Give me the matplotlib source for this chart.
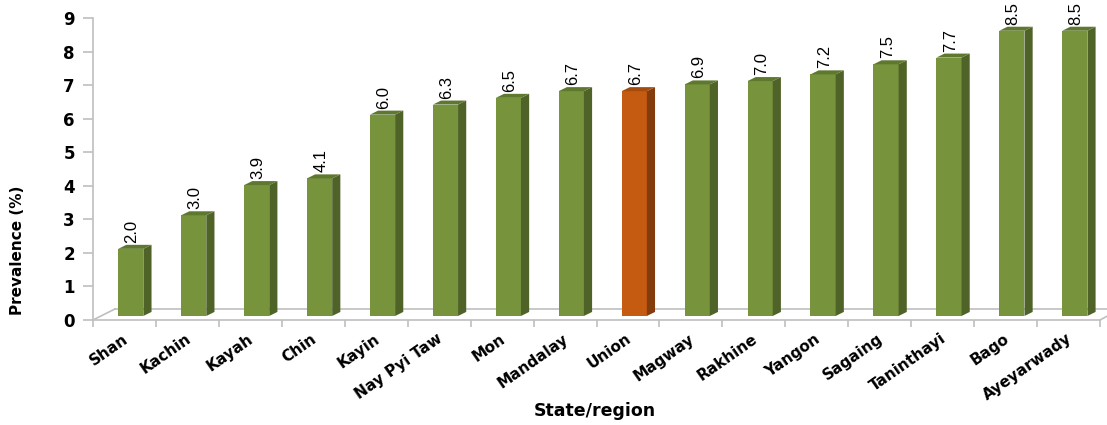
import matplotlib
matplotlib.use("Agg")
import matplotlib.pyplot as plt
from matplotlib.patches import Polygon
import numpy as np

regions = ["Shan", "Kachin", "Kayah", "Chin", "Kayin", "Nay Pyi Taw", "Mon",
           "Mandalay", "Union", "Magway", "Rakhine", "Yangon", "Sagaing",
           "Taninthayi", "Bago", "Ayeyarwady"]
prevalence = [2.0, 3.0, 3.9, 4.1, 6.0, 6.3, 6.5, 6.7, 6.7, 6.9, 7.0, 7.2, 7.5,
              7.7, 8.5, 8.5]
highlight = "Union"

# colours: front, top, side faces
green = ("#77933C", "#5F7830", "#4F6228")
orange = ("#C55A11", "#A64B0E", "#843C0C")
grid_col = "#BFBFBF"

fig = plt.figure(figsize=(11.07, 4.25), dpi=100)
ax = fig.add_axes([93 / 1107, 105 / 425, 1007 / 1107, 302 / 425])
ax.set_xlim(-0.5, len(regions) - 0.5)
ax.set_ylim(0, 9)

# pseudo-3D depth in data units
dx, dy = 0.13, 0.12
base = 0.12
width = 0.40
shift = 0.10

x = np.arange(len(regions))
for xi, name, v in zip(x, regions, prevalence):
    front, top, side = orange if name == highlight else green
    left = xi + shift - width / 2
    right = left + width
    ax.bar(xi + shift, v, width=width, bottom=base, color=front,
           edgecolor="none", zorder=3)
    ax.add_patch(Polygon([(right, base), (right + dx, base + dy),
                          (right + dx, base + v + dy), (right, base + v)],
                         closed=True, facecolor=side, edgecolor="none", zorder=3))
    ax.add_patch(Polygon([(left, base + v), (right, base + v),
                          (right + dx, base + v + dy), (left + dx, base + v + dy)],
                         closed=True, facecolor=top, edgecolor="none", zorder=3))
    ax.text(xi + shift + 0.02, base + v + dy + 0.06, f"{v:.1f}", rotation=90,
            ha="center", va="bottom", fontsize=12,
            family="Liberation Sans", color="black", zorder=4)

# floor of the 3D plot
x0, x1 = -0.5, len(regions) - 0.5
fdx, fdy = 0.35, 0.33
ax.plot([x0, x1], [0, 0], color=grid_col, lw=1.2, zorder=2, clip_on=False)
ax.plot([x0 + fdx, x1 + fdx], [fdy, fdy], color=grid_col, lw=1.2, zorder=1,
        clip_on=False)
ax.plot([x0, x0 + fdx], [0, fdy], color=grid_col, lw=1.2, zorder=1, clip_on=False)
ax.plot([x1, x1 + 0.12], [0, 0.12], color=grid_col, lw=1.2, zorder=1,
        clip_on=False)

for s in ["top", "right", "bottom"]:
    ax.spines[s].set_visible(False)
ax.spines["left"].set_color(grid_col)
ax.spines["left"].set_linewidth(1.2)

ax.set_yticks(range(10))
ax.set_yticklabels([str(i) for i in range(10)], fontsize=12, fontweight="bold")
ax.tick_params(axis="y", length=7, width=1.2, color=grid_col, pad=6)

ax.set_xticks(x - 0.04)
ax.set_xticklabels(regions, rotation=35, ha="right", va="top",
                   rotation_mode="anchor", fontsize=11, fontweight="bold")
ax.tick_params(axis="x", length=0, pad=8)
ax.set_xticks(np.arange(-0.5, len(regions)), minor=True)
ax.tick_params(axis="x", which="minor", length=5, width=1.2, color=grid_col)

fig.text(18 / 1107, 1 - 250 / 425, "Prevalence (%)", rotation=90, ha="center",
         va="center", fontsize=11, fontweight="bold")
fig.text(595 / 1107, 1 - 411 / 425, "State/region", ha="center", va="center",
         fontsize=12.5, fontweight="bold")

fig.savefig("out.png", dpi=100)
plt.close(fig)
